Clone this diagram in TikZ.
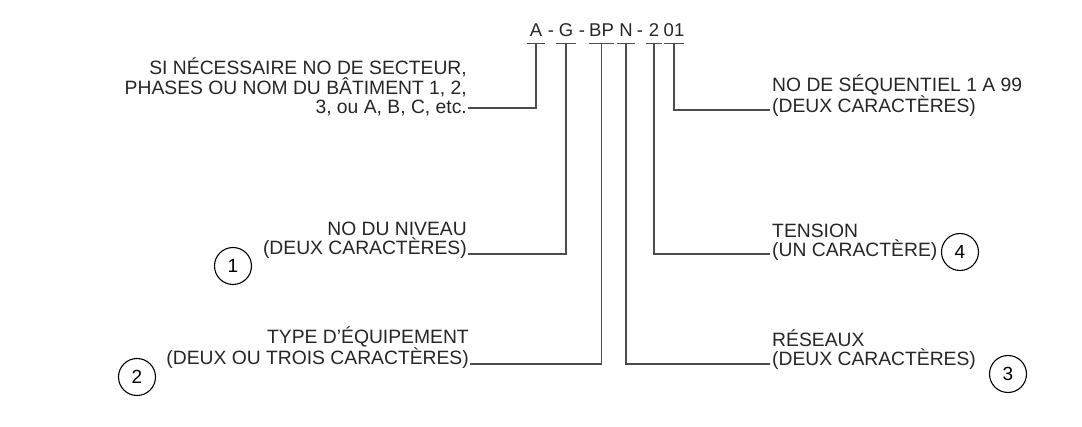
\documentclass[tikz,border=0pt]{standalone}
\usepackage{fontspec}
\setmainfont{Liberation Sans}
\begin{document}
\begin{tikzpicture}[x=1pt,y=-1pt,
  txt/.style={font=\fontsize{19.3}{19.5}\selectfont, inner sep=0pt, text=black!85},
  code/.style={font=\fontsize{18.5}{19.5}\selectfont, text=black!85, inner xsep=0pt, inner ysep=6pt, text depth=0pt, anchor=base},
  bar/.style={line width=1.2pt, draw=black!70},
  conn/.style={line width=1.2pt, draw=black!70},
  num/.style={circle, draw=black, line width=1.1pt, minimum size=37pt, inner sep=0pt, font=\fontsize{19}{20}\selectfont}]
\useasboundingbox[fill=white] (0,0) rectangle (1082,427);
% code pieces
\node[code, minimum width=18pt] (cA)  at (536,37) {A};
\node[code] (d1) at (551,37) {-};
\node[code, minimum width=19pt] (cG)  at (566,37) {G};
\node[code] (d2) at (582,37) {-};
\node[code, minimum width=21pt] (cBP) at (601.5,37) {BP};
\node[code, minimum width=18pt] (cN)  at (626,37) {N};
\node[code] (d3) at (640,37) {-};
\node[code, minimum width=15pt] (c2)  at (654,37) {2};
\node[code, minimum width=20pt] (c01) at (674,37) {01};
\foreach \n in {cA,cG,cBP,cN,c2,c01}
  \draw[bar] (\n.south west) -- (\n.south east);
% labels (base = baseline of last line)
\node[txt, align=right, anchor=base east] (lSec) at (467,114)
  {SI NÉCESSAIRE NO DE SECTEUR,\\PHASES OU NOM DU BÂTIMENT 1, 2,\\3, ou A, B, C, etc.};
\node[txt, align=right, anchor=base east] (lNiv) at (467,255)
  {NO DU NIVEAU\\(DEUX CARACTÈRES)};
\node[txt, align=right, anchor=base east] (lTyp) at (469,365)
  {TYPE D\char"0027ÉQUIPEMENT\\(DEUX OU TROIS CARACTÈRES)};
\node[txt, align=left, anchor=base west] (lSeq) at (772,113)
  {NO DE SÉQUENTIEL 1 A 99\\(DEUX CARACTÈRES)};
\node[txt, align=left, anchor=base west] (lTen) at (772,257)
  {TENSION\\(UN CARACTÈRE)};
\node[txt, align=left, anchor=base west] (lRes) at (772,366)
  {RÉSEAUX\\(DEUX CARACTÈRES)};
% line ends
\coordinate (eA)  at (468,108);
\coordinate (eG)  at (468,254);
\coordinate (eBP) at (470,364);
\coordinate (eN)  at (770,364);
\coordinate (e2)  at (770,254);
\coordinate (e01) at (770,110);
\draw[conn] (cA.south) |- (eA);
\draw[conn] (cG.south) |- (eG);
\draw[conn] (cBP.south) |- (eBP);
\draw[conn] (cN.south) |- (eN);
\draw[conn] (c2.south) |- (e2);
\draw[conn] (c01.south) |- (e01);
% numbered circles
\node[num] (n1) at (233,266) {1};
\node[num] (n2) at (137,377) {2};
\node[num] (n3) at (1008,374) {3};
\node[num] (n4) at (960,252) {4};
\end{tikzpicture}
\end{document}
